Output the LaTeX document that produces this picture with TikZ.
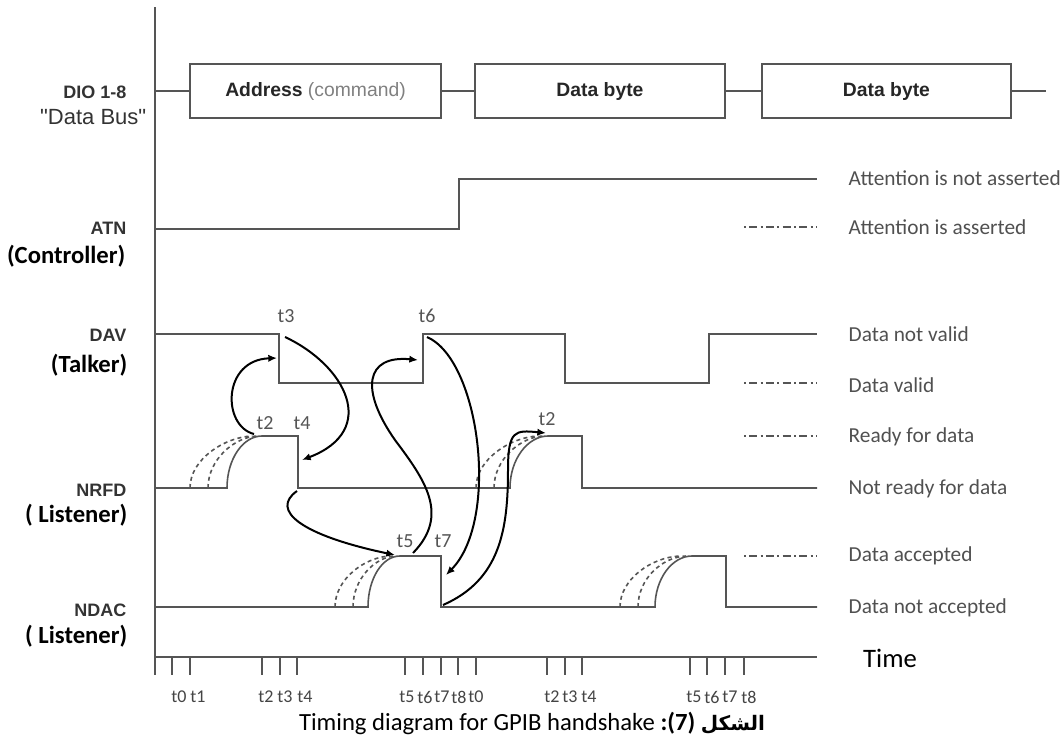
\documentclass[tikz,border=0pt]{standalone}
\usepackage{fontspec}
\setmainfont{Carlito}
\newfontfamily\arial{Liberation Sans}
\newfontfamily\arabicfont[Script=Arabic]{DejaVu Sans}
\TeXXeTstate=1
\usetikzlibrary{arrows.meta}
\definecolor{sig}{HTML}{555555}
\definecolor{lg}{HTML}{505050}
\definecolor{lab}{HTML}{333333}
\definecolor{tk}{HTML}{444444}
\tikzset{
  sigline/.style={draw=sig, line width=1.2pt},
  dashrise/.style={draw=sig, line width=1.2pt, dash pattern=on 3pt off 2.5pt},
  legdash/.style={draw=sig, line width=1.2pt, dash pattern=on 1.5pt off 2.5pt on 6pt off 2.5pt},
  handarrow/.style={draw=black, line width=1.5pt, -{Latex[length=6.5pt,width=5.5pt]}},
  dbox/.style={draw=sig, line width=1.4pt, inner sep=0pt, minimum height=40.5pt, font=\arial\fontsize{14.5}{16}\selectfont, text=black!85},
  leg/.style={anchor=west, text=lg, font=\fontsize{16}{18}\selectfont},
  tlab/.style={text=sig, font=\fontsize{15}{17}\selectfont},
  ticklab/.style={text=tk, font=\fontsize{13.5}{15}\selectfont},
  signame/.style={anchor=east, text=lab, font=\arial\bfseries\fontsize{13.5}{15}\selectfont},
  role/.style={anchor=east, text=black, font=\bfseries\fontsize{18.5}{20}\selectfont},
  tickline/.style={draw=sig, line width=1.2pt},
}
\begin{document}
\begin{tikzpicture}[x=0.75pt,y=-0.75pt]
\useasboundingbox (0,0) rectangle (1064,747);

% axes
\coordinate (axtop) at (155,7);
\coordinate (axbot) at (155,675);
\coordinate (taxl) at (155,657);
\coordinate (taxr) at (817,657);
\draw[sigline] (axtop) -- (axbot);
\draw[sigline] (taxl) -- (taxr);
\foreach \x in {172,190,262,280,297,405,423,441,458,476,547,565,582,690,707,725,744}
  \draw[tickline] (\x,657) -- (\x,675);
\foreach \x/\t in {179/t0,198/t1,266/t2,285/t3,305/t4,407/t5,425/t6,442/t7,459/t8,476/t0,552/t2,570/t3,589/t4,694/t5,712/t6,730/t7,749/t8}
  \node[ticklab] at (\x,697) {\t};
\node[font=\fontsize{20}{22}\selectfont] (time) at (890,658) {Time};

% left labels
\node[signame] (dio) at (131,92) {DIO 1-8};
\node[anchor=east, text=lab, font=\arial\fontsize{16.5}{18}\selectfont] (dbus) at (151,117) {"Data Bus"};
\node[signame] (atn) at (131,228) {ATN};
\node[role] (ctrl) at (130,256) {(Controller)};
\node[signame] (dav) at (131,335) {DAV};
\node[role] (talk) at (132,365) {(Talker)};
\node[signame] (nrfd) at (131,490) {NRFD};
\node[role] (lis1) at (132,515) {( Listener)};
\node[signame] (ndac) at (131,610) {NDAC};
\node[role] (lis2) at (132,636) {( Listener)};

% data bus
\node[dbox, minimum width=188.25pt] (b1) at (315.5,91) {\textbf{Address} \textcolor{gray}{(command)}};
\node[dbox, minimum width=187.5pt] (b2) at (600,91) {\textbf{Data byte}};
\node[dbox, minimum width=186.75pt] (b3) at (886.5,91) {\textbf{Data byte}};
\coordinate (dioL) at (155,91);
\coordinate (dioR) at (1046,91);
\draw[sigline] (dioL) -- (b1.west);
\draw[sigline] (b1.east) -- (b2.west);
\draw[sigline] (b2.east) -- (b3.west);
\draw[sigline] (b3.east) -- (dioR);

% ATN
\draw[sigline] (155,229) -- (459,229) -- (459,179) -- (817,179);
% DAV
\draw[sigline] (155,334) -- (279,334) -- (279,383) -- (423,383) -- (423,334) -- (565,334) -- (565,383) -- (709,383) -- (709,334) -- (817,334);
% NRFD
\draw[sigline] (155,488) -- (227,488) .. controls (227,459) and (243,436) .. (262,436) -- (298,436) -- (298,488) -- (510,488) .. controls (510,459) and (528,436) .. (548,436) -- (582,436) -- (582,488) -- (817,488);
\draw[dashrise] (190,488) .. controls (190,459) and (225,437) .. (252,436);
\draw[dashrise] (208,488) .. controls (208,459) and (235,437) .. (257,436);
\draw[dashrise] (476,488) .. controls (476,459) and (511,437) .. (538,436);
\draw[dashrise] (494,488) .. controls (494,459) and (521,437) .. (543,436);
% NDAC
\draw[sigline] (155,607) -- (368,607) .. controls (368,579) and (382,556) .. (400,556) -- (441,556) -- (441,607) -- (655,607) .. controls (655,579) and (672,556) .. (692,556) -- (726,556) -- (726,607) -- (817,607);
\draw[dashrise] (335,607) .. controls (335,579) and (365,557) .. (390,556);
\draw[dashrise] (353,607) .. controls (353,579) and (375,557) .. (395,556);
\draw[dashrise] (620,607) .. controls (620,579) and (652,557) .. (680,556);
\draw[dashrise] (638,607) .. controls (638,579) and (662,557) .. (686,556);

% event labels
\node[tlab] (lt3) at (286,316) {t3};
\node[tlab] (lt6) at (427,316) {t6};
\node[tlab] (lt2) at (265,423) {t2};
\node[tlab] (lt4) at (302,423) {t4};
\node[tlab] (lt2b) at (547,419) {t2};
\node[tlab] (lt5) at (405,541) {t5};
\node[tlab] (lt7) at (443,541) {t7};

% handshake arrows
\coordinate (a1s) at (254,434); \coordinate (a1e) at (277,358);
\coordinate (a2s) at (285,337); \coordinate (a2e) at (302,460);
\coordinate (a3s) at (297,491); \coordinate (a3e) at (395,555);
\coordinate (a4s) at (413,553); \coordinate (a4m) at (395,440); \coordinate (a4e) at (418,360);
\coordinate (a5s) at (427,337); \coordinate (a5e) at (446,575);
\coordinate (a6s) at (443,605); \coordinate (a6m) at (508,470); \coordinate (a6e) at (546,433);
\draw[handarrow] (a1s) .. controls (222,426) and (222,360) .. (a1e);
\draw[handarrow] (a2s) .. controls (345,365) and (380,430) .. (a2e);
\draw[handarrow] (a3s) .. controls (270,510) and (300,535) .. (a3e);
\draw[handarrow] (a4s) .. controls (450,515) and (425,480) .. (a4m) .. controls (360,390) and (365,355) .. (a4e);
\draw[handarrow] (a5s) .. controls (480,360) and (500,520) .. (a5e);
\draw[handarrow] (a6s) .. controls (500,580) and (508,530) .. (a6m) .. controls (508,430) and (515,430) .. (a6e);

% legend
\foreach \y in {227,383,436,556}
  \draw[legdash] (744,\y) -- (817,\y);
\node[leg] (l1) at (844,178) {Attention is not asserted};
\node[leg] (l2) at (844,227) {Attention is asserted};
\node[leg] (l3) at (844,334) {Data not valid};
\node[leg] (l4) at (844,385) {Data valid};
\node[leg] (l5) at (844,437) {Ready for data};
\node[leg] (l6) at (844,489) {Not ready for data};
\node[leg] (l7) at (844,556) {Data accepted};
\node[leg] (l8) at (844,608) {Data not accepted};

% caption
\node[font=\fontsize{18.5}{21}\selectfont] (cap) at (532,723) {Timing diagram for GPIB handshake \textbf{:(7)} {\arabicfont\bfseries\fontsize{15}{18}\selectfont\beginR الشكل\endR}};
\end{tikzpicture}
\end{document}
